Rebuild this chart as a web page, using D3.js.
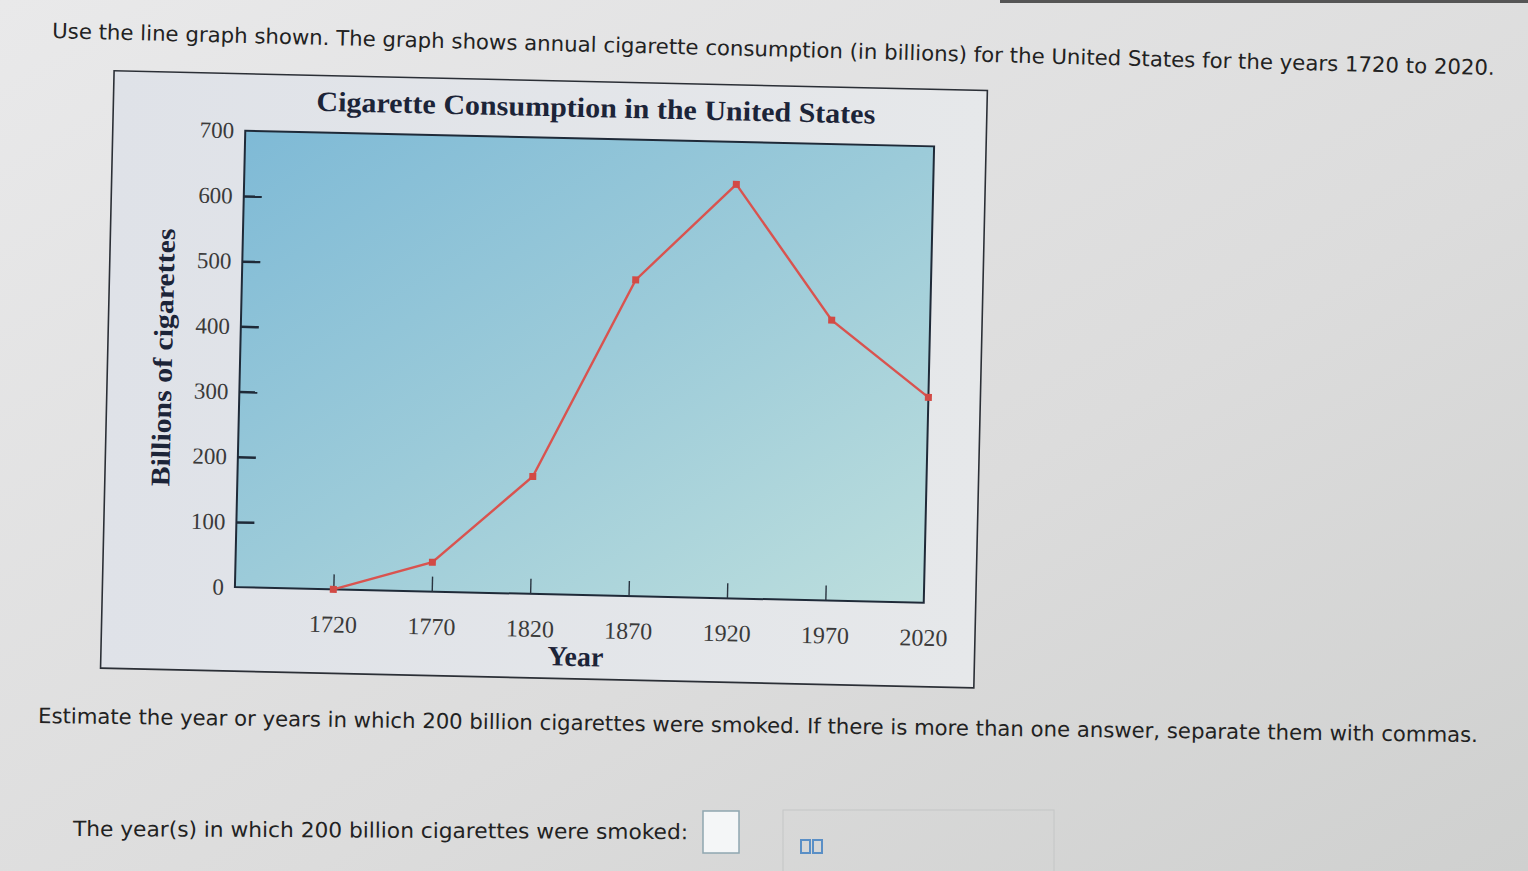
<!DOCTYPE html>
<html>
<head>
<meta charset="utf-8">
<script src="https://cdn.jsdelivr.net/npm/d3@7"></script>
<style>
  html, body { margin: 0; padding: 0; }
  body { width: 1528px; height: 871px; overflow: hidden; }
</style>
</head>
<body>
<svg id="chart" width="1528" height="871"></svg>
<script>
// chart values
const years = [1720, 1770, 1820, 1870, 1920, 1970, 2020];
const consumption = [0, 45, 180, 485, 635, 430, 315];
const yTicks = [0, 100, 200, 300, 400, 500, 600, 700];
const xTicks = [1720, 1770, 1820, 1870, 1920, 1970, 2020];

const title = "Cigarette Consumption in the United States";
const yLabel = "Billions of cigarettes";
const xLabel = "Year";
const intro = "Use the line graph shown. The graph shows annual cigarette consumption (in billions) for the United States for the years 1720 to 2020.";
const question = "Estimate the year or years in which 200 billion cigarettes were smoked. If there is more than one answer, separate them with commas.";
const answerLabel = "The year(s) in which 200 billion cigarettes were smoked:";

const svg = d3.select("#chart");
const defs = svg.append("defs");

const bg = defs.append("linearGradient").attr("id", "bg")
  .attr("x1", 0).attr("y1", 0).attr("x2", 1).attr("y2", 1);
bg.append("stop").attr("offset", 0).attr("stop-color", "#e9e9ea");
bg.append("stop").attr("offset", 0.6).attr("stop-color", "#dcdcdc");
bg.append("stop").attr("offset", 1).attr("stop-color", "#cfd0cf");

const plotBg = defs.append("linearGradient").attr("id", "plotbg")
  .attr("x1", 0).attr("y1", 0).attr("x2", 1).attr("y2", 1);
plotBg.append("stop").attr("offset", 0).attr("stop-color", "#7fbad6");
plotBg.append("stop").attr("offset", 0.5).attr("stop-color", "#9ccbd9");
plotBg.append("stop").attr("offset", 1).attr("stop-color", "#bcdedd");

const boxBg = defs.append("linearGradient").attr("id", "boxbg")
  .attr("x1", 0).attr("y1", 0).attr("x2", 1).attr("y2", 0);
boxBg.append("stop").attr("offset", 0).attr("stop-color", "#dfe2e8");
boxBg.append("stop").attr("offset", 1).attr("stop-color", "#e6e8ea");

svg.append("rect").attr("width", 1528).attr("height", 871).attr("fill", "url(#bg)");
svg.append("rect").attr("x", 1000).attr("y", 0).attr("width", 528).attr("height", 3).attr("fill", "#555");

const sans = "'DejaVu Sans', Verdana, sans-serif";
const serif = "'Liberation Serif', 'Times New Roman', serif";

// page text, slightly tilted like the photo
svg.append("text")
  .attr("transform", "translate(52,38) rotate(1.47)")
  .attr("font-family", sans).attr("font-size", 21).attr("fill", "#222")
  .attr("textLength", 1443).attr("lengthAdjust", "spacingAndGlyphs")
  .text(intro);

svg.append("text")
  .attr("transform", "translate(38,723) rotate(0.76)")
  .attr("font-family", sans).attr("font-size", 21).attr("fill", "#222")
  .attr("textLength", 1440).attr("lengthAdjust", "spacingAndGlyphs")
  .text(question);

svg.append("text")
  .attr("transform", "translate(73,836) rotate(0.3)")
  .attr("font-family", sans).attr("font-size", 21).attr("fill", "#222")
  .attr("textLength", 615).attr("lengthAdjust", "spacingAndGlyphs")
  .text(answerLabel);

svg.append("rect").attr("x", 703).attr("y", 811).attr("width", 36).attr("height", 42)
  .attr("fill", "#f4f6f7").attr("stroke", "#8fa6b0").attr("stroke-width", 1.5);
svg.append("rect").attr("x", 783).attr("y", 810).attr("width", 271).attr("height", 70)
  .attr("fill", "none").attr("stroke", "#c4c6c6").attr("stroke-width", 1);
svg.append("rect").attr("x", 801).attr("y", 840).attr("width", 9).attr("height", 13)
  .attr("fill", "none").attr("stroke", "#5a8fc6").attr("stroke-width", 2);
svg.append("rect").attr("x", 813).attr("y", 840).attr("width", 9).attr("height", 13)
  .attr("fill", "none").attr("stroke", "#5a8fc6").attr("stroke-width", 2);

// chart group
const plot = {left: 240, right: 929, top: 138.5, bottom: 595};
const g = svg.append("g").attr("transform", "rotate(1.3,584,367)");

g.append("rect").attr("x", 107.5).attr("y", 81.5).attr("width", 873.5).attr("height", 597.5)
  .attr("fill", "url(#boxbg)").attr("stroke", "#2b2f36").attr("stroke-width", 1.6);

g.append("rect").attr("x", plot.left).attr("y", plot.top)
  .attr("width", plot.right - plot.left).attr("height", plot.bottom - plot.top)
  .attr("fill", "url(#plotbg)").attr("stroke", "#1f2a38").attr("stroke-width", 2);

const x = d3.scaleLinear().domain([1670, 2020]).range([plot.left, plot.right]);
const y = d3.scaleLinear().domain([0, 700]).range([plot.bottom, plot.top]);

const yAxis = g.append("g").attr("transform", `translate(${plot.left},0)`)
  .call(d3.axisLeft(y).tickValues(yTicks).tickSize(-18).tickPadding(11));
yAxis.select(".domain").remove();
yAxis.selectAll(".tick line").attr("stroke", "#1f2a38").attr("stroke-width", 2.5)
  .attr("display", d => (d === 0 || d === 700) ? "none" : null);
yAxis.selectAll(".tick text").attr("font-family", serif).attr("font-size", 23).attr("fill", "#3a3a3a");

const xAxis = g.append("g").attr("transform", `translate(0,${plot.bottom})`)
  .call(d3.axisBottom(x).tickValues(xTicks).tickFormat(d3.format("d")).tickSize(-15).tickPadding(26));
xAxis.select(".domain").remove();
xAxis.selectAll(".tick line").attr("stroke", "#2a3440").attr("stroke-width", 1.4)
  .attr("display", d => d === 2020 ? "none" : null);
xAxis.selectAll(".tick text").attr("font-family", serif).attr("font-size", 24).attr("fill", "#3a3a3a");

g.append("text").attr("x", 590).attr("y", 117).attr("text-anchor", "middle")
  .attr("font-family", serif).attr("font-weight", "bold").attr("font-size", 28).attr("fill", "#1c2438")
  .attr("textLength", 559).attr("lengthAdjust", "spacingAndGlyphs")
  .text(title);

g.append("text").attr("transform", "translate(172,367) rotate(-90)").attr("text-anchor", "middle")
  .attr("font-family", serif).attr("font-weight", "bold").attr("font-size", 27).attr("fill", "#1c2438")
  .attr("textLength", 258).attr("lengthAdjust", "spacingAndGlyphs")
  .text(yLabel);

g.append("text").attr("x", 582).attr("y", 666).attr("text-anchor", "middle")
  .attr("font-family", serif).attr("font-weight", "bold").attr("font-size", 28).attr("fill", "#1c2438")
  .text(xLabel);

const data = years.map((yr, i) => ({year: yr, value: consumption[i]}));

const line = d3.line().x(d => x(d.year)).y(d => y(d.value));
g.append("path").datum(data).attr("d", line)
  .attr("fill", "none").attr("stroke", "#d9534f").attr("stroke-width", 2.4);

g.selectAll("rect.pt").data(data).join("rect").attr("class", "pt")
  .attr("x", d => x(d.year) - 3.5).attr("y", d => y(d.value) - 3.5)
  .attr("width", 7).attr("height", 7).attr("fill", "#d24a45");
</script>
</body>
</html>
